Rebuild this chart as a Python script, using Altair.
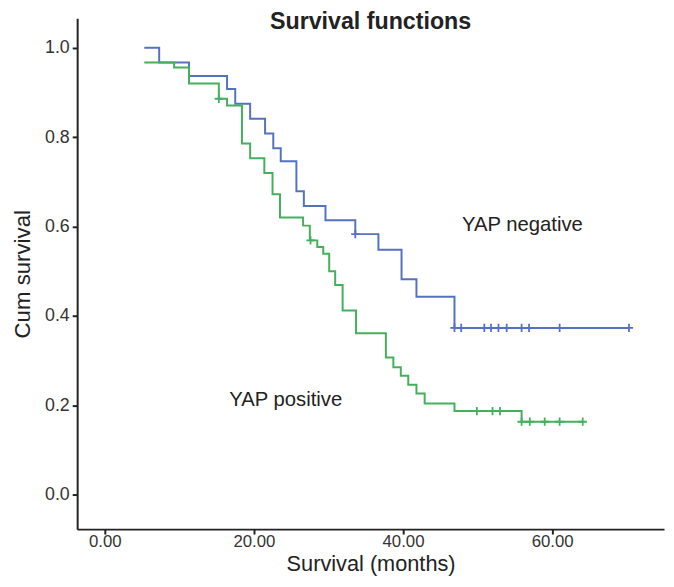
import altair as alt
import pandas as pd

# YAP negative (blue) Kaplan-Meier steps: time (months), cumulative survival after step
neg_times = [5.3, 7.3, 11.3, 16.4, 17.5, 19.5, 21.5, 22.6, 23.6, 25.7, 26.7, 29.6, 33.6, 36.7, 39.8, 41.8, 46.9, 70.3]
neg_surv = [1.0, 0.967, 0.937, 0.908, 0.875, 0.841, 0.808, 0.775, 0.746, 0.679, 0.646, 0.614, 0.583, 0.548, 0.482, 0.443, 0.373, 0.373]
neg_cens_t = [33.6, 46.9, 47.8, 50.9, 51.8, 52.8, 53.9, 55.9, 56.9, 61.0, 70.3]
neg_cens_s = [0.583, 0.373, 0.373, 0.373, 0.373, 0.373, 0.373, 0.373, 0.373, 0.373, 0.373]

# YAP positive (green)
pos_times = [5.3, 9.3, 11.3, 15.3, 16.4, 18.4, 19.5, 21.4, 22.5, 23.5, 26.6, 27.5, 28.5, 29.3, 30.1, 30.9,
             31.9, 33.7, 37.7, 38.7, 39.7, 40.7, 41.8, 42.9, 46.9, 55.9, 64.1]
pos_surv = [0.967, 0.956, 0.920, 0.886, 0.871, 0.786, 0.753, 0.720, 0.672, 0.620, 0.602, 0.569, 0.554, 0.539,
            0.500, 0.469, 0.412, 0.361, 0.307, 0.285, 0.266, 0.246, 0.226, 0.204, 0.187, 0.163, 0.163]
pos_cens_t = [15.3, 27.6, 49.9, 52.0, 53.0, 55.9, 57.0, 59.0, 61.0, 64.1]
pos_cens_s = [0.886, 0.569, 0.187, 0.187, 0.187, 0.163, 0.163, 0.163, 0.163, 0.163]

groups = ["YAP negative", "YAP positive"]
colors = ["#5572c0", "#45b05c"]

label_text = ["YAP negative", "YAP positive"]
label_x = [47.9, 16.7]
label_y = [0.604, 0.212]

x_ticks = [0, 20, 40, 60]
y_ticks = [0.0, 0.2, 0.4, 0.6, 0.8, 1.0]

curves = pd.concat([
    pd.DataFrame({"t": neg_times, "s": neg_surv, "g": groups[0]}),
    pd.DataFrame({"t": pos_times, "s": pos_surv, "g": groups[1]}),
])
cens = pd.concat([
    pd.DataFrame({"t": neg_cens_t, "s": neg_cens_s, "g": groups[0]}),
    pd.DataFrame({"t": pos_cens_t, "s": pos_cens_s, "g": groups[1]}),
])
labels = pd.DataFrame({"t": label_x, "s": label_y, "txt": label_text})

FONT = "Liberation Sans"

xscale = alt.Scale(domain=[-3.7, 75], nice=False, zero=False)
yscale = alt.Scale(domain=[-0.0774, 1.066], nice=False, zero=False)
cscale = alt.Scale(domain=groups, range=colors)

xenc = alt.X("t:Q", scale=xscale,
             axis=alt.Axis(values=x_ticks, format=".2f", title="Survival (months)",
                           labelBaseline="alphabetic", labelPadding=13, labelFontSize=17,
                           titleBaseline="alphabetic", titleY=42, titleFontSize=22))
yenc = alt.Y("s:Q", scale=yscale,
             axis=alt.Axis(values=y_ticks, format=".1f", title="Cum survival",
                           labelPadding=3, titlePadding=10))

lines = alt.Chart(curves).mark_line(interpolate="step-after", strokeWidth=2).encode(
    x=xenc, y=yenc,
    color=alt.Color("g:N", scale=cscale, legend=None),
    detail="g:N",
)

marks = alt.Chart(cens).mark_point(
    shape="M -1 0 L 1 0 M 0 -1 L 0 1", filled=False, size=70, strokeWidth=1.8, opacity=1
).encode(
    x=alt.X("t:Q", scale=xscale),
    y=alt.Y("s:Q", scale=yscale),
    color=alt.Color("g:N", scale=cscale, legend=None),
)

texts = alt.Chart(labels).mark_text(
    align="left", baseline="middle", fontSize=20.5, font=FONT, color="#222222"
).encode(
    x=alt.X("t:Q", scale=xscale),
    y=alt.Y("s:Q", scale=yscale),
    text="txt:N",
)

chart = alt.layer(lines, marks, texts).properties(
    width=594,
    height=517,
    title=alt.TitleParams("Survival functions", fontSize=23.5, fontWeight="bold", font=FONT,
                          color="#222222", anchor="middle", frame="group", offset=-15),
    autosize=alt.AutoSizeParams(type="none"),
    padding={"left": 70, "top": 7, "right": 2, "bottom": 47},
).configure_view(stroke=None).configure_axis(
    grid=False,
    domainColor="#222222", domainWidth=2,
    tickColor="#222222", tickWidth=2, tickSize=5,
    labelFont=FONT, labelFontSize=18, labelColor="#333333",
    titleFont=FONT, titleFontSize=22.5, titleFontWeight="normal", titleColor="#222222",
)

chart.save("out.html", embed_options={"renderer": "svg", "actions": False})
